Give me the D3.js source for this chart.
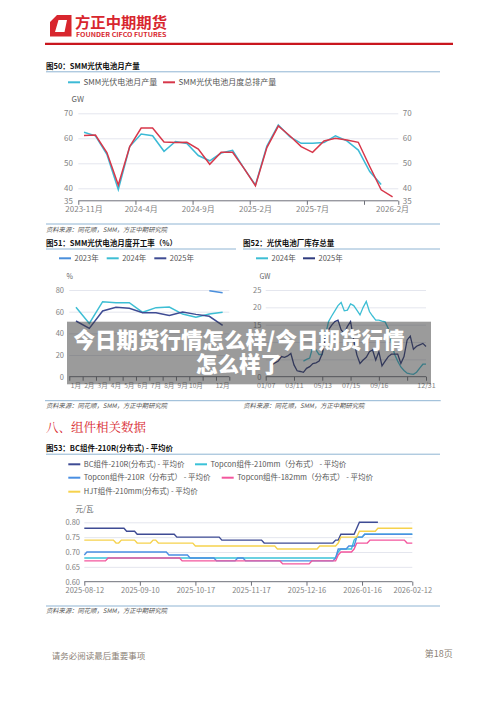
<!DOCTYPE html>
<html><head><meta charset="utf-8">
<script src="https://cdn.jsdelivr.net/npm/d3@7"></script>
<style>
html,body{margin:0;padding:0;background:#fff;}
svg{display:block;font-family:"Noto Sans CJK SC","Noto Sans",sans-serif;}
</style></head><body>
<svg id="page" width="500" height="707"></svg>
<script>
// ---------------- DATA ----------------
// Fig 50: SMM monthly cell output (GW)
const c50Months = ["2023-11月","2023-12月","2024-1月","2024-2月","2024-3月","2024-4月","2024-5月","2024-6月","2024-7月","2024-8月","2024-9月","2024-10月","2024-11月","2024-12月","2025-1月","2025-2月","2025-3月","2025-4月","2025-5月","2025-6月","2025-7月","2025-8月","2025-9月","2025-10月","2025-11月","2025-12月","2026-1月","2026-2月"];
const c50Output   = [62.4,61.0,53.6,39.5,56.7,61.7,61.0,54.8,58.7,57.9,53.1,51.0,54.1,55.2,48.0,41.3,56.9,65.3,60.7,58.0,58.0,58.3,61.0,59.0,55.3,46.7,41.5,null];
const c50Schedule = [61.1,61.3,54.3,41.3,56.7,64.1,64.1,58.5,58.3,58.4,55.7,49.6,54.4,54.4,48.0,41.0,56.3,64.9,61.0,56.7,54.4,58.9,60.0,59.3,58.4,48.7,39.4,36.6];
const c50YTicks = [35,40,50,60,70];
const c50XLabels = ["2023-11月","2024-4月","2024-9月","2025-2月","2025-7月","2026-2月"];
const c50Legend = ["SMM光伏电池月产量","SMM光伏电池月度总排产量"];

// Fig 51: monthly operating rate (%)
const c51Months = ["1月","2月","3月","4月","5月","6月","7月","8月","9月","10月","11月","12月"];
const c51Y2023 = [null,null,null,null,null,null,null,null,null,null,79.4,77.5];
const c51Y2024 = [64.0,49.2,69.2,68.3,68.3,59.4,63.7,64.3,57.8,54.8,57.8,59.4];
const c51Y2025 = [51.4,44.6,60.6,64.0,63.1,59.1,59.1,56.6,59.7,57.5,55.7,47.4];
const c51YTicks = [0,20,40,60,80];
const c51XLabels = ["1月","2月","3月","4月","5月","6月","7月","8月","9月","10月","12月"];

// Fig 52: weekly cell inventory (GW), index = week of year
const c52Y2024 = [null,null,null,null,null,null,null,null,null,null,null,null,4.5,5.0,5.4,8.7,7.7,6.4,6.4,12.0,15.9,17.5,19.0,20.5,21.4,19.0,19.2,21.0,20.5,19.2,17.8,20.0,21.7,18.8,17.5,16.3,16.3,16.0,15.8,13.9,10.0,6.5,4.5,2.8,1.8,1.0,0.8,0.7,1.3,2.5,3.6,3.6];
const c52Y2025 = [null,null,3.4,4.0,4.5,5.8,5.6,6.0,6.7,3.4,1.7,1.5,1.25,2.4,2.9,3.8,4.0,4.5,6.7,11.5,13.5,14.9,15.9,16.3,13.5,12.5,14.5,15.9,10.6,6.3,3.8,4.8,5.6,7.2,7.7,4.8,7.2,3.1,4.5,5.8,6.5,6.5,6.5,3.8,5.8,10.6,11.7,7.9,8.8,9.2,9.6,8.7];
const c52GridTicks = [5,10,15,20,25];
const c52YLabels = [0,15,20,25];   // 5 and 10 are hidden under the banner text
const c52TickIdx = [0,9,18,27,36,51];
const c52XLabels = ["01/07","03/11","05/13","07/15","09/16","12/31"];

// Fig 53: module prices (yuan/W), [trading-day index, price]
const c53BC      = [[0,0.78],[15,0.78],[16,0.77],[19,0.77],[20,0.76],[34,0.76],[35,0.75],[51,0.75],[52,0.74],[67,0.74],[68,0.73],[94,0.73],[95,0.74],[96,0.74],[97,0.76],[102,0.76],[103,0.78],[104,0.80],[111,0.80]];
const c53Top210mm= [[0,0.68],[95,0.68],[96,0.70],[97,0.71],[101,0.71],[102,0.74],[103,0.75],[105,0.75],[106,0.76],[124,0.76]];
const c53Top210R = [[0,0.69],[1,0.70],[31,0.70],[32,0.69],[39,0.69],[40,0.68],[49,0.68],[50,0.67],[57,0.67],[58,0.68],[60,0.68],[61,0.67],[94,0.67],[95,0.68],[96,0.71],[99,0.71],[100,0.72],[102,0.72],[103,0.75],[105,0.75],[106,0.76],[124,0.76]];
const c53Top182  = [[0,0.67],[8,0.67],[9,0.68],[36,0.68],[37,0.67],[74,0.67],[75,0.66],[85,0.66],[86,0.67],[95,0.67],[96,0.69],[97,0.70],[101,0.70],[102,0.71],[103,0.73],[107,0.73],[108,0.74],[121,0.74],[122,0.73],[124,0.73]];
const c53HJT     = [[0,0.74],[11,0.74],[12,0.73],[13,0.73],[14,0.74],[19,0.74],[20,0.73],[25,0.73],[26,0.74],[27,0.74],[28,0.73],[41,0.73],[42,0.72],[72,0.72],[73,0.71],[88,0.71],[89,0.72],[95,0.72],[96,0.73],[97,0.75],[103,0.75],[104,0.77],[110,0.77],[111,0.78],[124,0.78]];
const c53YTicks = [0.60,0.65,0.70,0.75,0.80];
const c53TickIdx = [0,21,42,63,84,105,124];
const c53XLabels = ["2025-08-12","2025-09-10","2025-10-17","2025-11-17","2025-12-16","2026-01-16","2026-02-12"];
const c53Legend = ["BC组件-210R(分布式) - 平均价","Topcon组件-210mm（分布式） - 平均价","Topcon组件-210R（分布式） - 平均价","Topcon组件-182mm（分布式） - 平均价","HJT组件-210mm(分布式) - 平均价"];

// ---------------- STYLE ----------------
const BOXLINE = "#8fb4d3", GRID = "#e4e6ee", AXIS = "#6e7079", LBL = "#838383";
const C_CYAN = "#3cbad6", C_RED = "#d7374a";
const C23 = "#4a8fdc", C24 = "#3dbed4", C25 = "#3e4b93";
const C_BC = "#3e4b94", C_T210mm = "#3ac2d8", C_T210R = "#4a8fe2", C_T182 = "#f3569d", C_HJT = "#f6d24c";

const svg = d3.select("#page");
svg.append("rect").attr("width",500).attr("height",707).attr("fill","#fff");

function txt(x,y,s,o={}){
  const t = svg.append("text").attr("x",x).attr("y",y).text(s)
    .attr("font-size",o.size||8).attr("fill",o.fill||"#333")
    .attr("text-anchor",o.anchor||"start");
  if(o.weight) t.attr("font-weight",o.weight);
  if(o.italic) t.attr("font-style","italic");
  if(o.ls!=null) t.attr("letter-spacing",o.ls);
  if(o.family) t.attr("font-family",o.family);
  if(o.len) t.attr("textLength",o.len).attr("lengthAdjust","spacingAndGlyphs");
  return t;
}
function hl(x1,x2,y,c,w){ svg.append("line").attr("x1",x1).attr("x2",x2).attr("y1",y).attr("y2",y).attr("stroke",c).attr("stroke-width",w||1); }
function legendItem(x,y,color,label,size){
  svg.append("line").attr("x1",x).attr("x2",x+12).attr("y1",y).attr("y2",y).attr("stroke",color).attr("stroke-width",2);
  txt(x+15.5,y+size*0.36,label,{size:size,fill:"#555"});
}
function styleAxis(g,size,fill){
  g.select(".domain").remove();
  g.selectAll("text").attr("font-size",size).attr("fill",fill).attr("font-family",'"Noto Sans CJK SC","Noto Sans",sans-serif');
  g.selectAll("line").attr("stroke",AXIS);
}

// ---------------- HEADER ----------------
svg.append("path")
  .attr("d","M57,15 L71.5,15 L71.5,36.5 L50,36.5 L50,22 Z M58.5,20 L67,20 L64.5,32 L55,32 Z")
  .attr("fill","#d8262e").attr("fill-rule","evenodd");
txt(75,27.6,"方正中期期货",{size:14.5,fill:"#d8262e",weight:"bold",len:92});
txt(76,36.6,"FOUNDER CIFCO FUTURES",{size:5.6,fill:"#d8262e",weight:"bold",len:90.5});
hl(45,453,43.9,"#c9161e",2.4);

// ---------------- FIG 50 ----------------
txt(46,69.3,"图50：SMM光伏电池月产量",{size:7.5,fill:"#111",weight:"bold"});
hl(46,440,71.8,BOXLINE,1);
legendItem(68,82.3,C_CYAN,c50Legend[0],8);
legendItem(163,82.3,C_RED,c50Legend[1],8);
txt(71.5,101.8,"GW",{size:8,fill:"#666"});
{
  const L=78.3,R=398.3,T=113.3,B=200.8;
  const x = d3.scaleBand().domain(c50Months).range([L,R]);
  const xb = d3.scaleLinear().domain([0,c50Months.length]).range([L,R]);
  const y = d3.scaleLinear().domain([35,70]).range([B,T]);
  const grid = svg.append("g").attr("transform",`translate(${L},0)`)
    .call(d3.axisLeft(y).tickValues(c50YTicks.filter(v=>v>35)).tickSize(-(R-L)).tickFormat(""));
  grid.select(".domain").remove(); grid.selectAll("line").attr("stroke",GRID);
  const ya = svg.append("g").attr("transform",`translate(${L},0)`)
    .call(d3.axisLeft(y).tickValues(c50YTicks).tickSize(0).tickPadding(5.3));
  styleAxis(ya,8,LBL);
  const yr = svg.append("g").attr("transform",`translate(${R},0)`)
    .call(d3.axisRight(y).tickValues(c50YTicks).tickSize(0).tickPadding(4.4));
  styleAxis(yr,8,LBL);
  hl(L,R,B,AXIS,1);
  const tk = svg.append("g").attr("transform",`translate(0,${B})`)
    .call(d3.axisBottom(xb).tickValues([0,5,10,15,20,25,28]).tickSize(4).tickFormat(""));
  styleAxis(tk,8,LBL);
  const xl = svg.append("g").attr("transform",`translate(0,${B})`)
    .call(d3.axisBottom(x).tickValues(c50XLabels).tickSize(0).tickPadding(5.5));
  styleAxis(xl,8,LBL);
  const line = d3.line().defined(d=>d!=null).x((d,i)=>x(c50Months[i])+x.bandwidth()/2).y(d=>y(d));
  svg.append("path").attr("d",line(c50Output)).attr("fill","none").attr("stroke",C_CYAN).attr("stroke-width",1.5);
  svg.append("path").attr("d",line(c50Schedule)).attr("fill","none").attr("stroke",C_RED).attr("stroke-width",1.5);
}
hl(46,440,224,BOXLINE,1);
txt(46,231.6,"资料来源：同花顺，SMM，方正中期研究院",{size:6.3,fill:"#555",italic:true});

// ---------------- FIG 51 ----------------
txt(46,245.5,"图51：SMM光伏电池月度开工率（%）",{size:7.5,fill:"#111",weight:"bold"});
hl(46,236,249,BOXLINE,1);
legendItem(59,258.3,C23,"2023年",7.5);
legendItem(106.7,258.3,C24,"2024年",7.5);
legendItem(154.3,258.3,C25,"2025年",7.5);
txt(66.5,278.5,"%",{size:7,fill:"#666"});
{
  const L=69.3,R=229.3,T=290,B=376.7;
  const x = d3.scaleBand().domain(c51Months).range([L,R]);
  const xb = d3.scaleLinear().domain([0,12]).range([L,R]);
  const y = d3.scaleLinear().domain([0,80]).range([B,T]);
  const grid = svg.append("g").attr("transform",`translate(${L},0)`)
    .call(d3.axisLeft(y).tickValues(c51YTicks.filter(v=>v>0)).tickSize(-(R-L)).tickFormat(""));
  grid.select(".domain").remove(); grid.selectAll("line").attr("stroke",GRID);
  const ya = svg.append("g").attr("transform",`translate(${L},0)`)
    .call(d3.axisLeft(y).tickValues(c51YTicks).tickSize(0).tickPadding(5.3));
  styleAxis(ya,7.5,LBL);
  hl(L,R,B,AXIS,1);
  const tk = svg.append("g").attr("transform",`translate(0,${B})`)
    .call(d3.axisBottom(xb).tickValues(d3.range(13)).tickSize(4).tickFormat(""));
  styleAxis(tk,7,LBL);
  const xl = svg.append("g").attr("transform",`translate(0,${B})`)
    .call(d3.axisBottom(x).tickValues(c51XLabels).tickSize(0).tickPadding(6.8));
  styleAxis(xl,6.6,LBL);
  const line = d3.line().defined(d=>d!=null).x((d,i)=>x(c51Months[i])+x.bandwidth()/2).y(d=>y(d));
  [[c51Y2023,C23],[c51Y2024,C24],[c51Y2025,C25]].forEach(([s,c])=>{
    svg.append("path").attr("d",line(s)).attr("fill","none").attr("stroke",c).attr("stroke-width",1.5);
  });
}

// ---------------- FIG 52 ----------------
txt(243,245.5,"图52：光伏电池厂库存总量",{size:7.5,fill:"#111",weight:"bold"});
hl(243,440,249,BOXLINE,1);
legendItem(256,258.3,C24,"2024年",7.5);
legendItem(303,258.3,"#2f3b7e","2025年",7.5);
txt(259.5,278.5,"GW",{size:7,fill:"#666"});
{
  const L=265.7,R=426,T=290,B=376.7;
  const x = d3.scaleLinear().domain([0,c52Y2024.length-1]).range([L,R]);
  const y = d3.scaleLinear().domain([0,25]).range([B,T]);
  const grid = svg.append("g").attr("transform",`translate(${L},0)`)
    .call(d3.axisLeft(y).tickValues(c52GridTicks).tickSize(-(R-L)).tickFormat(""));
  grid.select(".domain").remove(); grid.selectAll("line").attr("stroke",GRID);
  const ya = svg.append("g").attr("transform",`translate(${L},0)`)
    .call(d3.axisLeft(y).tickValues(c52YLabels).tickSize(0).tickPadding(4.4));
  styleAxis(ya,7.5,LBL);
  hl(L,R,B,AXIS,1);
  const tk = svg.append("g").attr("transform",`translate(0,${B})`)
    .call(d3.axisBottom(x).tickValues([0,9,18,27,36,45,51]).tickSize(4).tickFormat(""));
  styleAxis(tk,7,LBL);
  const xl = svg.append("g").attr("transform",`translate(0,${B})`)
    .call(d3.axisBottom(x).tickValues(c52TickIdx).tickSize(0).tickPadding(6.8).tickFormat((d,i)=>c52XLabels[i]));
  styleAxis(xl,7,LBL);
  const line = d3.line().defined(d=>d!=null).x((d,i)=>x(i)).y(d=>y(d));
  svg.append("path").attr("d",line(c52Y2024)).attr("fill","none").attr("stroke",C24).attr("stroke-width",1.3);
  svg.append("path").attr("d",line(c52Y2025)).attr("fill","none").attr("stroke","#2f3b7e").attr("stroke-width",1.3);
}
hl(45,440.7,400.7,BOXLINE,1);
txt(46,408.3,"资料来源：同花顺，SMM，方正中期研究院",{size:6.3,fill:"#555",italic:true});
txt(243.3,408.3,"资料来源：同花顺，SMM，方正中期研究院",{size:6.3,fill:"#555",italic:true});

// ---------------- OVERLAY BANNER ----------------
svg.append("rect").attr("x",67).attr("y",321.7).attr("width",364).attr("height",62.6).attr("fill","rgba(55,55,55,0.5)");
txt(239,348.3,"今日期货行情怎么样/今日期货行情",{size:21.5,fill:"#fff",weight:900,anchor:"middle"});
txt(239,372.4,"怎么样了",{size:21.5,fill:"#fff",weight:900,anchor:"middle"});

// ---------------- SECTION 8 ----------------
txt(46,431.8,"八、组件相关数据",{size:12.5,fill:"#d8262e",family:'"Noto Serif CJK SC","Noto Sans CJK SC",serif'});
txt(46,451,"图53：BC组件-210R(分布式) - 平均价",{size:7.5,fill:"#111",weight:"bold"});
hl(46,440,454.2,BOXLINE,1);
legendItem(68.3,464.3,C_BC,c53Legend[0],7.5);
legendItem(195,464.3,C_T210mm,c53Legend[1],7.5);
legendItem(68.3,477.7,C_T210R,c53Legend[2],7.5);
legendItem(221.7,477.7,C_T182,c53Legend[3],7.5);
legendItem(68.3,491.7,C_HJT,c53Legend[4],7.5);
txt(75.5,511.8,"元/瓦",{size:7.5,fill:"#666"});
{
  const L=84.3,R=412.3,T=522.3,B=581.7;
  const x = d3.scaleLinear().domain([0,124]).range([L,R]);
  const y = d3.scaleLinear().domain([0.60,0.80]).range([B,T]);
  const grid = svg.append("g").attr("transform",`translate(${L},0)`)
    .call(d3.axisLeft(y).tickValues(c53YTicks.filter(v=>v>0.6)).tickSize(-(R-L)).tickFormat(""));
  grid.select(".domain").remove(); grid.selectAll("line").attr("stroke",GRID);
  const ya = svg.append("g").attr("transform",`translate(${L},0)`)
    .call(d3.axisLeft(y).tickValues(c53YTicks).tickSize(0).tickPadding(4.3).tickFormat(d3.format(".2f")));
  styleAxis(ya,7.5,LBL);
  hl(L,R,B,AXIS,1);
  const tk = svg.append("g").attr("transform",`translate(0,${B})`)
    .call(d3.axisBottom(x).tickValues(c53TickIdx).tickSize(4).tickFormat(""));
  styleAxis(tk,7.5,LBL);
  const xl = svg.append("g").attr("transform",`translate(0,${B})`)
    .call(d3.axisBottom(x).tickValues(c53TickIdx).tickSize(0).tickPadding(6.3).tickFormat((d,i)=>c53XLabels[i]));
  styleAxis(xl,7.5,LBL);
  const line = d3.line().x(d=>x(d[0])).y(d=>y(d[1]));
  [[c53BC,C_BC],[c53Top210mm,C_T210mm],[c53Top210R,C_T210R],[c53Top182,C_T182],[c53HJT,C_HJT]].forEach(([s,c])=>{
    svg.append("path").attr("d",line(s)).attr("fill","none").attr("stroke",c).attr("stroke-width",1.4);
  });
}
hl(46,440,606,BOXLINE,1);
txt(46,612.6,"资料来源：同花顺，SMM，方正中期研究院",{size:6.3,fill:"#555",italic:true});

// ---------------- FOOTER ----------------
txt(51.7,658.6,"请务必阅读最后重要事项",{size:8.5,fill:"#8b7f76"});
txt(452.7,657.2,"第18页",{size:9,fill:"#8b7f76",anchor:"end"});
</script>
</body></html>
